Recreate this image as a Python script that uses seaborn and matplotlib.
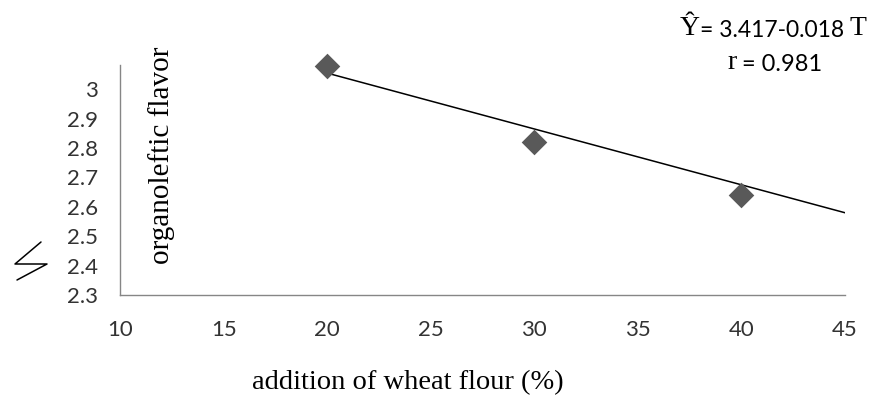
import pandas as pd
import matplotlib.pyplot as plt
import seaborn as sns
from matplotlib.lines import Line2D

# --- DATA ---
wheat_flour = [20, 30, 40]
flavor_score = [3.08, 2.82, 2.64]

trend_x = [20, 45]
trend_y = [3.055, 2.58]

x_ticks = [10, 15, 20, 25, 30, 35, 40, 45]
y_ticks = [2.3, 2.4, 2.5, 2.6, 2.7, 2.8, 2.9, 3.0]
y_tick_labels = ["2.3", "2.4", "2.5", "2.6", "2.7", "2.8", "2.9", "3"]

AXIS_GRAY = "#868686"
TEXT_GRAY = "#333333"
SERIF = ["Liberation Serif", "DejaVu Serif"]
SANS = ["Lato", "DejaVu Sans"]

sns.set_theme(style="white")
plt.rcParams["font.family"] = SANS

fig = plt.figure(figsize=(8.76, 4.15), dpi=100)
ax = fig.add_axes([0.137, 0.289, 0.8276, 0.554])

points = pd.DataFrame({"flour": wheat_flour, "flavor": flavor_score})
trend = pd.DataFrame({"flour": trend_x, "flavor": trend_y})

sns.lineplot(data=trend, x="flour", y="flavor", color="black", linewidth=1.1, ax=ax)
sns.scatterplot(data=points, x="flour", y="flavor", marker="D", s=170,
                color="#595959", linewidth=0, ax=ax, zorder=3, clip_on=False)

ax.set_xlim(10, 45)
ax.set_ylim(2.3, 3.082)
ax.set_xticks(x_ticks)
ax.set_yticks(y_ticks)
ax.set_yticklabels(y_tick_labels)

for side in ["top", "right"]:
    ax.spines[side].set_visible(False)
for side in ["left", "bottom"]:
    ax.spines[side].set_color(AXIS_GRAY)
    ax.spines[side].set_linewidth(1.0)

ax.tick_params(axis="both", which="both", direction="out", length=7,
               width=1.0, color=AXIS_GRAY, labelcolor=TEXT_GRAY, labelsize=16)
ax.tick_params(axis="y", pad=9)
ax.tick_params(axis="x", pad=11)
ax.grid(False)

ax.set_xlabel("addition of wheat flour (%)", family=SERIF, fontsize=20.5, color="black")
ax.xaxis.set_label_coords(0.397, -0.325)
ax.set_ylabel("organoleftic flavor", family=SERIF, fontsize=21, color="black")
ax.yaxis.set_label_coords(0.057, 0.61)
ax.yaxis.label.set_va("center")

# regression equation
t1 = fig.text(680 / 876, 1 - 41 / 415, "Ŷ", family=SERIF, fontsize=20,
              color="black", va="bottom", ha="left")
t2 = ax.annotate("= 3.417-0.018 ", xy=(1, 0), xycoords=t1, va="bottom",
                 ha="left", family=SANS, fontsize=16.5, color="black",
                 annotation_clip=False)
ax.annotate("T", xy=(1, 0), xycoords=t2, va="bottom", ha="left",
            family=SERIF, fontsize=20, color="black", annotation_clip=False)
t4 = fig.text(727 / 876, 1 - 75 / 415, "r", family=SERIF, fontsize=20,
              color="black", va="bottom", ha="left")
ax.annotate(" = 0.981", xy=(1, 0), xycoords=t4, va="bottom", ha="left",
            family=SANS, fontsize=17, color="black", annotation_clip=False)

# axis break mark
break_x = [41, 15, 47, 17]
break_y = [242, 264, 264, 280]
fig.add_artist(Line2D([v / 876 for v in break_x], [1 - v / 415 for v in break_y],
                      color="black", linewidth=1.1, transform=fig.transFigure))

fig.savefig("out.png", dpi=100)
